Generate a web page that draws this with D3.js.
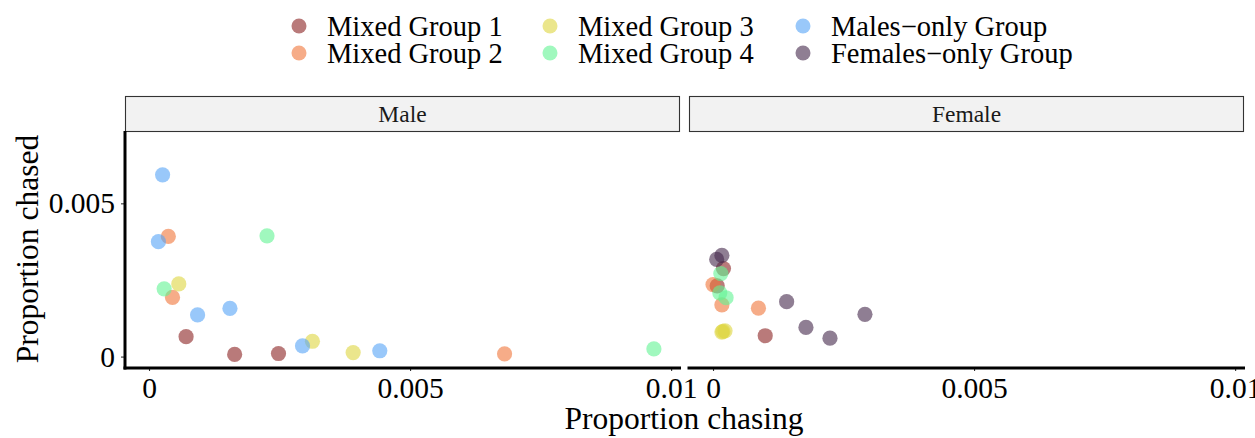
<!DOCTYPE html>
<html>
<head>
<meta charset="utf-8">
<script src="https://cdn.jsdelivr.net/npm/d3@7"></script>
<style>
  html, body { margin: 0; padding: 0; background: #fff; }
  svg { display: block; font-family: "Liberation Serif", "Times New Roman", serif; }
</style>
</head>
<body>
<svg id="chart" width="1255" height="438"></svg>
<script>
// Group names and colours (drawn with alpha)
const groups = ["Mixed Group 1", "Mixed Group 2", "Mixed Group 3", "Mixed Group 4", "Males\u2212only Group", "Females\u2212only Group"];
const groupColors = ["#8B2121", "#F07539", "#DED53F", "#61F393", "#55A3F7", "#44284B"];
const panels = ["Male", "Female"];
const xTicks = [0, 0.005, 0.01];
const yTicks = [0, 0.005];

// Male panel: proportion chasing / proportion chased per individual
const maleGroup = ["Mixed Group 1","Mixed Group 1","Mixed Group 1",
  "Mixed Group 2","Mixed Group 2","Mixed Group 2",
  "Mixed Group 3","Mixed Group 3","Mixed Group 3",
  "Mixed Group 4","Mixed Group 4","Mixed Group 4",
  "Males\u2212only Group","Males\u2212only Group","Males\u2212only Group",
  "Males\u2212only Group","Males\u2212only Group","Males\u2212only Group"];
const maleChasing = [0.00071, 0.00164, 0.00248,
  0.00037, 0.00045, 0.00681,
  0.00057, 0.00313, 0.00391,
  0.00226, 0.00029, 0.00967,
  0.00026, 0.00018, 0.00093, 0.00155, 0.00294, 0.00442];
const maleChased = [0.00065, 0.00007, 0.00010,
  0.00392, 0.00193, 0.00009,
  0.00237, 0.00050, 0.00013,
  0.00394, 0.00221, 0.00025,
  0.00593, 0.00375, 0.00136, 0.00157, 0.00035, 0.00019];

// Female panel
const femaleGroup = ["Mixed Group 1","Mixed Group 1","Mixed Group 1",
  "Mixed Group 2","Mixed Group 2","Mixed Group 2",
  "Mixed Group 3","Mixed Group 3","Mixed Group 3",
  "Mixed Group 4","Mixed Group 4","Mixed Group 4",
  "Females\u2212only Group","Females\u2212only Group","Females\u2212only Group",
  "Females\u2212only Group","Females\u2212only Group","Females\u2212only Group"];
const femaleChasing = [0.00020, 0.00008, 0.00100,
  0.00000, 0.00017, 0.00087,
  0.00017, 0.00023, 0.00019,
  0.00015, 0.00013, 0.00025,
  0.00007, 0.00017, 0.00141, 0.00178, 0.00224, 0.00291];
const femaleChased = [0.00287, 0.00231, 0.00068,
  0.00235, 0.00169, 0.00158,
  0.00080, 0.00084, 0.00082,
  0.00271, 0.00208, 0.00192,
  0.00317, 0.00330, 0.00179, 0.00095, 0.00060, 0.00138];

const panelData = [
  maleChasing.map((v, i) => ({ x: v, y: maleChased[i], g: maleGroup[i] })),
  femaleChasing.map((v, i) => ({ x: v, y: femaleChased[i], g: femaleGroup[i] }))
];

const svg = d3.select("#chart");
const color = d3.scaleOrdinal().domain(groups).range(groupColors);
const ALPHA = 0.6;
const R = 7.6;

const panelLeft = [125, 689];
const panelW = 555;
const plotTop = 131, plotBottom = 367, stripH = 35;

const y = d3.scaleLinear().domain([-0.00034, 0.00736]).range([plotBottom, plotTop]);

panelData.forEach((data, p) => {
  const x0 = panelLeft[p];
  const x = d3.scaleLinear().domain([-0.00046, 0.01017]).range([x0, x0 + panelW]);
  const g = svg.append("g");

  // strip
  g.append("rect")
    .attr("x", x0 + 0.5).attr("y", plotTop - stripH + 0.5)
    .attr("width", panelW - 1).attr("height", stripH)
    .attr("fill", "#f2f2f2").attr("stroke", "#333").attr("stroke-width", 1.1);
  g.append("text")
    .attr("x", x0 + panelW / 2).attr("y", plotTop - stripH / 2 + 8)
    .attr("text-anchor", "middle").attr("font-size", 23.5).attr("fill", "#1a1a1a")
    .text(panels[p]);

  // points
  g.append("g").selectAll("circle").data(data).join("circle")
    .attr("cx", d => x(d.x)).attr("cy", d => y(d.y)).attr("r", R)
    .attr("fill", d => color(d.g)).attr("fill-opacity", ALPHA);

  // x axis
  const xa = g.append("g").attr("transform", `translate(0,${plotBottom})`)
    .call(d3.axisBottom(x).tickValues(xTicks).tickFormat(d => d === 0 ? "0" : String(d)).tickSize(4).tickPadding(6));
  xa.select(".domain").remove();
  xa.selectAll(".tick line").attr("stroke", "#333").attr("stroke-width", 1.1);
  xa.selectAll(".tick text").attr("font-family", "Liberation Serif, serif").attr("font-size", 29.5).attr("fill", "#000");
  g.append("line").attr("x1", x0 - 1.5).attr("x2", x0 + panelW + 1).attr("y1", plotBottom + 1).attr("y2", plotBottom + 1)
    .attr("stroke", "#000").attr("stroke-width", 3);

  if (p === 0) {
    const ya = g.append("g").attr("transform", `translate(${x0},0)`)
      .call(d3.axisLeft(y).tickValues(yTicks).tickFormat(d => d === 0 ? "0" : String(d)).tickSize(4).tickPadding(6));
    ya.select(".domain").remove();
    ya.selectAll(".tick line").attr("stroke", "#333").attr("stroke-width", 1.1);
    ya.selectAll(".tick text").attr("font-family", "Liberation Serif, serif").attr("font-size", 29.5).attr("fill", "#000");
    g.append("line").attr("x1", x0).attr("x2", x0).attr("y1", plotTop).attr("y2", plotBottom + 2.5)
      .attr("stroke", "#000").attr("stroke-width", 3);
  }
});

// axis titles
svg.append("text").attr("x", 684).attr("y", 429).attr("text-anchor", "middle")
  .attr("font-size", 31.5).text("Proportion chasing");
svg.append("text").attr("transform", "translate(38,249) rotate(-90)").attr("text-anchor", "middle")
  .attr("font-size", 31.5).text("Proportion chased");

// legend: 3 columns x 2 rows, filled by column
const legendCols = [299, 550, 803];
const legendRows = [26, 53];
const leg = svg.append("g");
groups.forEach((name, i) => {
  const cx = legendCols[Math.floor(i / 2)], cy = legendRows[i % 2];
  leg.append("circle").attr("cx", cx).attr("cy", cy).attr("r", 7.5)
    .attr("fill", color(name)).attr("fill-opacity", ALPHA);
  leg.append("text").attr("x", cx + 28).attr("y", cy + 10).attr("font-size", 28.5).text(name);
});
</script>
</body>
</html>
